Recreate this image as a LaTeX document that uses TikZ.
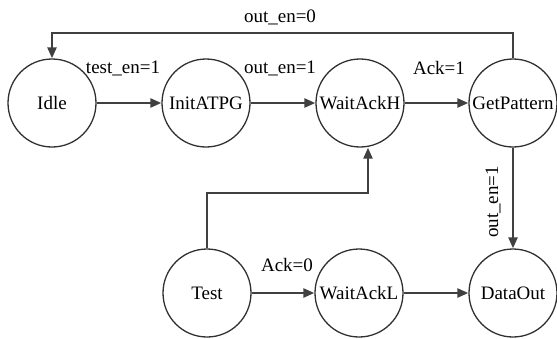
\documentclass[tikz,border=0pt]{standalone}
\usepackage{fontspec}
\setmainfont{Liberation Serif}
\usetikzlibrary{arrows.meta}
\definecolor{wire}{HTML}{404040}
\definecolor{rim}{HTML}{303030}
\begin{document}
\begin{tikzpicture}[x=1pt,y=-1pt,
  state/.style={circle,draw=rim,line width=1.3pt,minimum size=88pt,inner sep=0pt,font=\fontsize{19}{19}\selectfont},
  flow/.style={draw=wire,line width=2.4pt,-{Triangle[length=11pt,width=9pt]}},
  lbl/.style={font=\fontsize{19}{19}\selectfont,inner sep=0pt}]
\useasboundingbox (0,0) rectangle (557,338);
% states
\node[state] (idle) at (52,103) {Idle};
\node[state] (init) at (206,103) {InitATPG};
\node[state] (wah)  at (360,103) {WaitAckH};
\node[state] (get)  at (513,103) {GetPattern};
\node[state] (test) at (207,293) {Test};
\node[state] (wal)  at (359,293) {WaitAckL};
\node[state] (out)  at (513,293) {DataOut};
% transitions
\draw[flow] (idle) -- (init);
\draw[flow] (init) -- (wah);
\draw[flow] (wah) -- (get);
\draw[flow] (test) -- (wal);
\draw[flow] (wal) -- (out);
\draw[flow] (get) -- (out);
\draw[flow] (get.north) |- (280,33) -| (idle.north);
\draw[flow] (test.north) |- (368,193) -- (wah.south -| 368,0);
% labels
\node[lbl] at (123,68) {test\_en=1};
\node[lbl] at (280,68) {out\_en=1};
\node[lbl] at (439,68) {Ack=1};
\node[lbl] at (280,17) {out\_en=0};
\node[lbl] at (287,265) {Ack=0};
\node[lbl,rotate=90] at (493,202) {out\_en=1};
\end{tikzpicture}
\end{document}
